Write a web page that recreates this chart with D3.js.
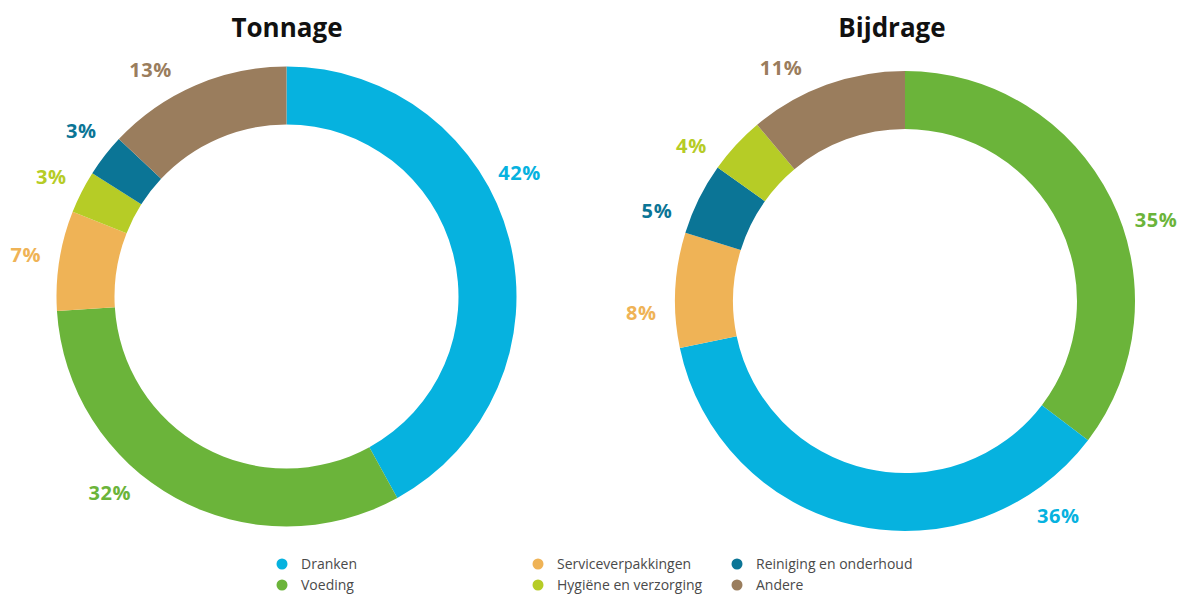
<!DOCTYPE html>
<html>
<head>
<meta charset="utf-8">
<script src="https://cdn.jsdelivr.net/npm/d3@7"></script>
<style>
  body { margin: 0; background: #fff; }
  text { font-family: "Open Sans", sans-serif; }
</style>
</head>
<body>
<div id="chart"></div>
<script>
// Categories and colours
var categories = ['Dranken', 'Voeding', 'Serviceverpakkingen', 'Hygiëne en verzorging', 'Reiniging en onderhoud', 'Andere'];
var colors = ['#06b2df', '#6bb43a', '#efb356', '#b6cc26', '#0b7596', '#9a7d5d'];

// Tonnage (clockwise from top)
var tonnageCats = ['Dranken', 'Voeding', 'Serviceverpakkingen', 'Hygiëne en verzorging', 'Reiniging en onderhoud', 'Andere'];
var tonnageValues = [42, 32, 7, 3, 3, 13];

// Bijdrage (clockwise from top)
var bijdrageCats = ['Voeding', 'Dranken', 'Serviceverpakkingen', 'Reiniging en onderhoud', 'Hygiëne en verzorging', 'Andere'];
var bijdrageValues = [35, 36, 8, 5, 4, 11];

// label placement (degrees clockwise from top), layout only
var tonnageLabelAngles = [62, 222, 279, 297, 309, 329];
var bijdrageLabelAngles = [72, 144.5, 267.5, 290, 306, 332];

var width = 1200;
var height = 595;
var outerR = 230;
var innerR = 172;
var labelR = 264;

var color = d3.scaleOrdinal().domain(categories).range(colors);

var svg = d3.select('#chart')
    .append('svg')
    .attr('width', width)
    .attr('height', height);

var pie = d3.pie()
    .sort(null)
    .value(function(d) { return d.value; });

var arc = d3.arc()
    .innerRadius(innerR)
    .outerRadius(outerR);

function drawDonut(title, cats, values, labelAngles, cx, cy, titleX) {
  var data = cats.map(function(c, i) {
    return {cat: c, value: values[i], angle: labelAngles[i]};
  });

  svg.append('text')
      .attr('x', titleX)
      .attr('y', 37)
      .attr('text-anchor', 'middle')
      .attr('font-size', 26)
      .attr('font-weight', 700)
      .attr('fill', '#111')
      .text(title);

  var g = svg.append('g')
      .attr('transform', 'translate(' + cx + ',' + cy + ')');

  g.selectAll('path')
      .data(pie(data))
      .enter()
      .append('path')
      .attr('d', arc)
      .attr('fill', function(d) { return color(d.data.cat); });

  g.selectAll('text')
      .data(pie(data))
      .enter()
      .append('text')
      .attr('transform', function(d) {
        var p = d3.pointRadial(d.data.angle * Math.PI / 180, labelR);
        return 'translate(' + p[0] + ',' + p[1] + ')';
      })
      .attr('dy', '0.36em')
      .attr('text-anchor', 'middle')
      .attr('font-size', 20)
      .attr('font-weight', 700)
      .attr('letter-spacing', 0.6)
      .attr('fill', function(d) { return color(d.data.cat); })
      .text(function(d) { return d.data.value + '%'; });
}

drawDonut('Tonnage', tonnageCats, tonnageValues, tonnageLabelAngles, 286.5, 296.5, 287);
drawDonut('Bijdrage', bijdrageCats, bijdrageValues, bijdrageLabelAngles, 905, 301, 892);

// Legend: 3 columns x 2 rows
var legendX = d3.scaleOrdinal().domain([0, 1, 2]).range([282, 538, 737]);
var legendY = d3.scaleOrdinal().domain([0, 1]).range([564, 585]);

var legend = svg.selectAll('.legend')
    .data(categories)
    .enter()
    .append('g')
    .attr('class', 'legend')
    .attr('transform', function(d, i) {
      return 'translate(' + legendX(Math.floor(i / 2)) + ',' + legendY(i % 2) + ')';
    });

legend.append('circle')
    .attr('r', 5.5)
    .attr('fill', function(d) { return color(d); });

legend.append('text')
    .attr('x', 19)
    .attr('dy', '0.35em')
    .attr('font-size', 14)
    .attr('fill', '#4a4a4a')
    .text(function(d) { return d; });
</script>
</body>
</html>
